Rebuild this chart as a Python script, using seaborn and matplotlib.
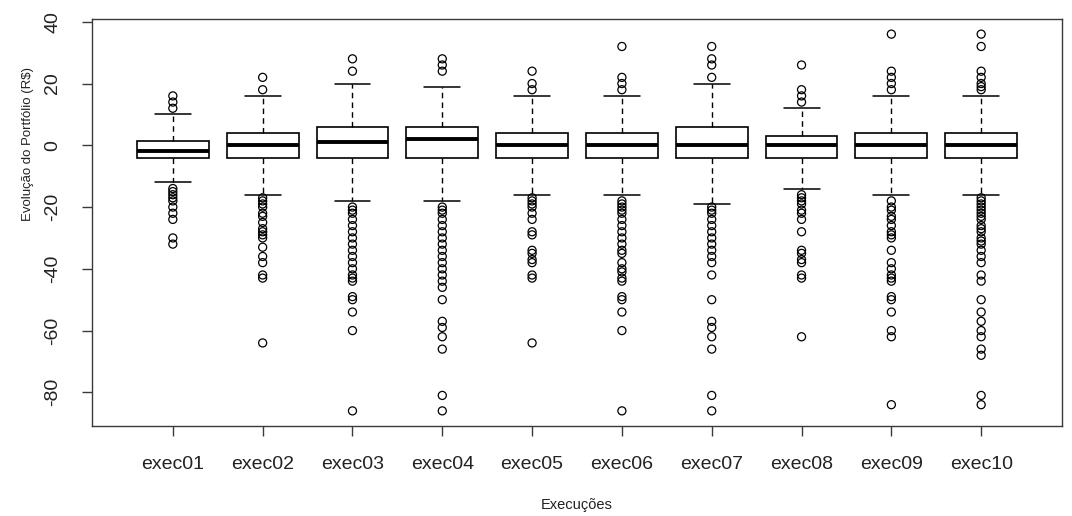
import numpy as np
import pandas as pd
import matplotlib
matplotlib.use("Agg")
import matplotlib.pyplot as plt
import seaborn as sns

# ---- data ----
names = ["exec01", "exec02", "exec03", "exec04", "exec05",
         "exec06", "exec07", "exec08", "exec09", "exec10"]
q1 = [-4, -4, -4, -4, -4, -4, -4, -4, -4, -4]
med = [-2, 0, 1, 2, 0, 0, 0, 0, 0, 0]
q3 = [1.5, 4, 6, 6, 4, 4, 6, 3, 4, 4]
whislo = [-12, -16, -18, -18, -16, -16, -19, -14, -16, -16]
whishi = [10, 16, 20, 19, 16, 16, 20, 12, 16, 16]

out01 = [16, 14, 12, -14, -15, -16, -17, -18, -20, -22, -24, -30, -32]
out02 = [22, 18, -17, -18, -19, -20, -22, -23, -25, -27, -28, -29, -30,
         -33, -36, -38, -42, -43, -64]
out03 = [28, 24, -20, -21, -22, -24, -26, -28, -30, -32, -34, -36, -38,
         -40, -42, -43, -44, -49, -50, -54, -60, -86]
out04 = [28, 26, 24, -20, -21, -22, -24, -26, -28, -30, -32, -34, -36,
         -38, -40, -42, -44, -46, -50, -57, -59, -62, -66, -81, -86]
out05 = [24, 20, 18, -17, -18, -19, -20, -22, -24, -28, -29, -34, -35,
         -37, -38, -42, -43, -64]
out06 = [32, 22, 20, 18, -18, -19, -20, -21, -22, -24, -26, -28, -30,
         -32, -34, -35, -38, -40, -41, -43, -44, -49, -50, -54, -60, -86]
out07 = [32, 28, 26, 22, -20, -21, -22, -24, -26, -28, -30, -32, -34,
         -36, -38, -42, -50, -57, -59, -62, -66, -81, -86]
out08 = [26, 18, 16, 14, -16, -17, -18, -19, -21, -22, -24, -28, -34,
         -35, -37, -38, -42, -43, -62]
out09 = [36, 24, 22, 20, 18, -18, -20, -21, -23, -24, -26, -28, -29,
         -30, -34, -38, -40, -42, -43, -44, -49, -50, -54, -60, -62, -84]
out10 = [36, 32, 24, 22, 20, 19, 18, -17, -18, -19, -20, -21, -22, -23,
         -24, -26, -27, -28, -30, -31, -32, -34, -36, -38, -42, -44, -50,
         -54, -57, -60, -62, -66, -68, -81, -84]
outliers = [out01, out02, out03, out04, out05, out06, out07, out08, out09, out10]

yticks = [-80, -60, -40, -20, 0, 20, 40]
xlabel = "Execuções"
ylabel = "Evolução do Portfólio (R$)"

# ---- tables for seaborn ----
box_df = pd.DataFrame({
    "exec": np.repeat(names, 5),
    "value": np.column_stack([whislo, q1, med, q3, whishi]).ravel(),
})
out_df = pd.DataFrame({
    "exec": [n for n, o in zip(names, outliers) for _ in o],
    "value": [v for o in outliers for v in o],
})

sns.set_style("ticks")
plt.rcParams["font.family"] = ["Liberation Sans", "DejaVu Sans"]
plt.rcParams["axes.unicode_minus"] = False

fig = plt.figure(figsize=(10.72, 5.16), dpi=100)
ax = fig.add_axes([92 / 1072, 1 - 426 / 516, 970 / 1072, 407 / 516])

sns.boxplot(
    data=box_df, x="exec", y="value", order=names, whis=(0, 100),
    showfliers=False, width=0.8, color="white", saturation=1,
    linecolor="black", linewidth=1.2,
    medianprops=dict(linewidth=2.8, color="black", solid_capstyle="butt"),
    whiskerprops=dict(linestyle=(0, (4, 3)), linewidth=1.0, color="black"),
    capprops=dict(linewidth=1.1, color="black"),
    ax=ax,
)
sns.stripplot(
    data=out_df, x="exec", y="value", order=names, jitter=False,
    size=5.8, marker="o", color="black", linewidth=0.9,
    edgecolor="black", ax=ax,
)
for c in ax.collections:
    c.set_facecolor("none")
    c.set_edgecolor("black")
    c.set_linewidth(0.9)

ax.set_xlim(-0.9, 9.9)
ax.set_ylim(-90.9, 40.9)
ax.set_yticks(yticks)
ax.set_xlabel("")
ax.set_ylabel("")
for s in ax.spines.values():
    s.set_visible(True)
    s.set_color("#3a3a3a")
    s.set_linewidth(1.0)
ax.tick_params(axis="both", direction="out", length=7.5, width=1.0,
               color="#3a3a3a", labelsize=14, labelcolor="#222222")
ax.tick_params(axis="x", pad=14)
ax.tick_params(axis="y", pad=14.5)
for lab in ax.get_yticklabels():
    lab.set_rotation(90)
    lab.set_va("center")

fig.text(28 / 1072, 1 - 144 / 516, ylabel, rotation=90, ha="center",
         va="center", fontsize=9.5, color="#222222")
fig.text(577 / 1072, 1 - 505 / 516, xlabel, ha="center", va="center",
         fontsize=10.5, color="#222222")

fig.savefig("out.png", dpi=100)
